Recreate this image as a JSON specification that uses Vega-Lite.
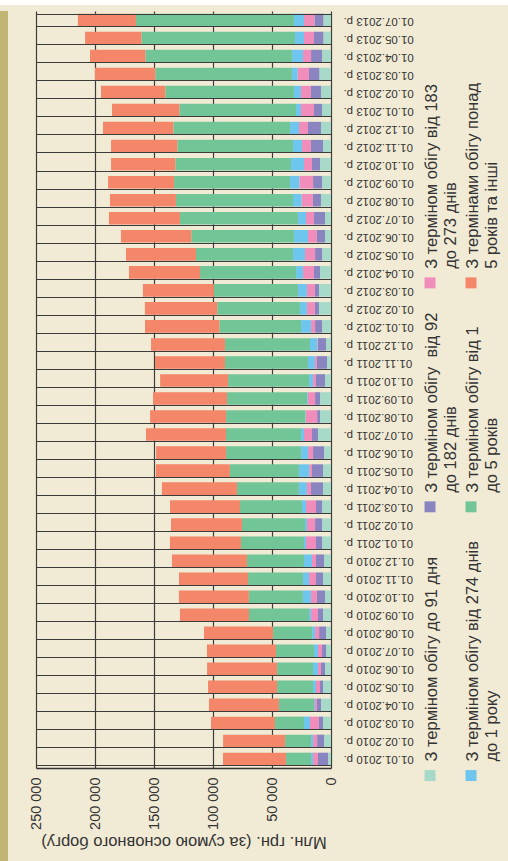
{
  "$schema": "https://vega.github.io/schema/vega-lite/v6.json",
  "background": "#F1EAD5",
  "padding": 0,
  "spacing": 0,
  "config": {
    "view": {"stroke": null},
    "font": "Liberation Sans",
    "axis": {"gridColor": "#3c3c3c", "gridOpacity": 1, "gridWidth": 1.2, "domainColor": "#333333"}
  },
  "datasets": {
    "bars": [
      {"d": "01.07.2013 р.", "s1": 6500, "s2": 7600, "s3": 8800, "s4": 8500, "s5": 133900, "s6": 49200},
      {"d": "01.05.2013 р.", "s1": 6500, "s2": 7900, "s3": 8500, "s4": 7600, "s5": 130200, "s6": 47700},
      {"d": "01.04.2013 р.", "s1": 7600, "s2": 9300, "s3": 6800, "s4": 9300, "s5": 124300, "s6": 46900},
      {"d": "01.03.2013 р.", "s1": 9900, "s2": 8800, "s3": 9600, "s4": 4800, "s5": 115800, "s6": 51100},
      {"d": "01.02.2013 р.", "s1": 8500, "s2": 8500, "s3": 8500, "s4": 5900, "s5": 109000, "s6": 54500},
      {"d": "01.01.2013 р.", "s1": 7600, "s2": 6800, "s3": 11000, "s4": 4200, "s5": 98900, "s6": 57100},
      {"d": "01.12.2012 р.", "s1": 8500, "s2": 11000, "s3": 7600, "s4": 7600, "s5": 98900, "s6": 59600},
      {"d": "01.11.2012 р.", "s1": 6800, "s2": 10200, "s3": 7600, "s4": 7600, "s5": 98000, "s6": 56200},
      {"d": "01.10.2012 р.", "s1": 9300, "s2": 6800, "s3": 6800, "s4": 11000, "s5": 98000, "s6": 54500},
      {"d": "01.09.2012 р.", "s1": 7600, "s2": 7600, "s3": 11600, "s4": 7900, "s5": 98300, "s6": 55900},
      {"d": "01.08.2012 р.", "s1": 8500, "s2": 6800, "s3": 9600, "s4": 7300, "s5": 99200, "s6": 55900},
      {"d": "01.07.2012 р.", "s1": 5100, "s2": 9300, "s3": 6800, "s4": 6800, "s5": 100000, "s6": 60200},
      {"d": "01.06.2012 р.", "s1": 5100, "s2": 6800, "s3": 7600, "s4": 11900, "s5": 87000, "s6": 59600},
      {"d": "01.05.2012 р.", "s1": 7600, "s2": 5900, "s3": 8500, "s4": 10200, "s5": 82200, "s6": 59300},
      {"d": "01.04.2012 р.", "s1": 9300, "s2": 5100, "s3": 9300, "s4": 5900, "s5": 81400, "s6": 60200},
      {"d": "01.03.2012 р.", "s1": 10200, "s2": 3400, "s3": 6800, "s4": 7600, "s5": 71200, "s6": 60200},
      {"d": "01.02.2012 р.", "s1": 10200, "s2": 3400, "s3": 6800, "s4": 5900, "s5": 70100, "s6": 61300},
      {"d": "01.01.2012 р.", "s1": 7600, "s2": 5900, "s3": 3400, "s4": 8500, "s5": 69200, "s6": 63000},
      {"d": "01.12.2011 р.", "s1": 4200, "s2": 6800, "s3": 600, "s4": 6200, "s5": 72000, "s6": 62700},
      {"d": "01.11.2011 р.", "s1": 3400, "s2": 8500, "s3": 1700, "s4": 5900, "s5": 70300, "s6": 59300},
      {"d": "01.10.2011 р.", "s1": 5100, "s2": 7600, "s3": 2500, "s4": 3400, "s5": 68600, "s6": 57600},
      {"d": "01.09.2011 р.", "s1": 9300, "s2": 4200, "s3": 6200, "s4": 600, "s5": 67800, "s6": 62700},
      {"d": "01.08.2011 р.", "s1": 9300, "s2": 2500, "s3": 9600, "s4": 300, "s5": 67200, "s6": 64400},
      {"d": "01.07.2011 р.", "s1": 11000, "s2": 5100, "s3": 6800, "s4": 2500, "s5": 63600, "s6": 67800},
      {"d": "01.06.2011 р.", "s1": 5900, "s2": 9300, "s3": 4200, "s4": 5900, "s5": 63600, "s6": 59300},
      {"d": "01.05.2011 р.", "s1": 6800, "s2": 9300, "s3": 2300, "s4": 8800, "s5": 58500, "s6": 62700},
      {"d": "01.04.2011 р.", "s1": 6800, "s2": 10200, "s3": 3400, "s4": 6800, "s5": 52500, "s6": 63600},
      {"d": "01.03.2011 р.", "s1": 7600, "s2": 5100, "s3": 8500, "s4": 3400, "s5": 52500, "s6": 59300},
      {"d": "01.02.2011 р.", "s1": 7600, "s2": 5900, "s3": 6800, "s4": 1700, "s5": 53400, "s6": 60200},
      {"d": "01.01.2011 р.", "s1": 7600, "s2": 5100, "s3": 8500, "s4": 1700, "s5": 53400, "s6": 60200},
      {"d": "01.12.2010 р.", "s1": 5900, "s2": 6800, "s3": 3400, "s4": 6800, "s5": 48300, "s6": 63600},
      {"d": "01.11.2010 р.", "s1": 6800, "s2": 5900, "s3": 5900, "s4": 5100, "s5": 46600, "s6": 58500},
      {"d": "01.10.2010 р.", "s1": 5100, "s2": 6800, "s3": 5100, "s4": 6800, "s5": 45800, "s6": 59300},
      {"d": "01.09.2010 р.", "s1": 6800, "s2": 4200, "s3": 5900, "s4": 1700, "s5": 50900, "s6": 58500},
      {"d": "01.08.2010 р.", "s1": 4200, "s2": 5900, "s3": 3400, "s4": 2500, "s5": 33100, "s6": 58500},
      {"d": "01.07.2010 р.", "s1": 4200, "s2": 3400, "s3": 3400, "s4": 3400, "s5": 32200, "s6": 58500},
      {"d": "01.06.2010 р.", "s1": 5100, "s2": 3400, "s3": 2500, "s4": 4200, "s5": 30500, "s6": 59300},
      {"d": "01.05.2010 р.", "s1": 6800, "s2": 2500, "s3": 3400, "s4": 2500, "s5": 30500, "s6": 58500},
      {"d": "01.04.2010 р.", "s1": 8500, "s2": 3400, "s3": 1700, "s4": 800, "s5": 29700, "s6": 59300},
      {"d": "01.03.2010 р.", "s1": 6800, "s2": 3400, "s3": 7600, "s4": 5100, "s5": 24600, "s6": 54200},
      {"d": "01.02.2010 р.", "s1": 5900, "s2": 5900, "s3": 3400, "s4": 1700, "s5": 22000, "s6": 52500},
      {"d": "01.01.2010 р.", "s1": 2500, "s2": 8500, "s3": 4200, "s4": 1700, "s5": 21200, "s6": 53400}
    ],
    "legend": [
      {"key": "s1", "col": 1, "row": "bottom", "label": "З терміном обігу до 91 дня"},
      {"key": "s4", "col": 2, "row": "bottom", "label": "З терміном обігу від 274 днів\n\u00a0\u00a0\u00a0\u00a0до 1 року"},
      {"key": "s2", "col": 1, "row": "middle", "label": "З терміном обігу \u00a0від 92\n\u00a0\u00a0до 182 днів"},
      {"key": "s5", "col": 2, "row": "middle", "label": "З терміном обігу від 1\n\u00a0\u00a0до 5 років"},
      {"key": "s3", "col": 1, "row": "top", "label": "З терміном обігу від 183\n\u00a0\u00a0до 273 днів"},
      {"key": "s6", "col": 2, "row": "top", "label": "З термінами обігу понад\n\u00a0\u00a05 років та інші"}
    ]
  },
  "vconcat": [
    {
      "width": 508,
      "height": 5,
      "view": {"fill": "#FFFFFF", "stroke": null},
      "data": {"values": [{}]},
      "mark": {"type": "point", "opacity": 0, "size": 1},
      "encoding": {}
    },
    {
      "hconcat": [
        {
          "width": 8,
          "height": 856,
          "view": {"fill": "#C2B472", "stroke": null},
          "data": {"values": [{}]},
          "mark": {"type": "point", "opacity": 0, "size": 1},
          "encoding": {}
        },
        {
          "width": 295,
          "height": 757,
          "data": {"name": "bars"},
          "transform": [{"fold": ["s1", "s2", "s3", "s4", "s5", "s6"], "as": ["key", "value"]}],
          "mark": {"type": "bar"},
          "encoding": {
            "y": {
              "field": "d",
              "type": "nominal",
              "sort": null,
              "scale": {"paddingInner": 0.3, "paddingOuter": 0.15},
              "axis": {
                "orient": "right",
                "title": null,
                "labelAngle": 180,
                "labelAlign": "right",
                "labelBaseline": "middle",
                "labelFont": "Liberation Sans",
                "labelFontSize": 11.5,
                "labelColor": "#333333",
                "labelPadding": 12,
                "labelOverlap": false,
                "ticks": false,
                "domain": false,
                "grid": true,
                "gridColor": "#3c3c3c",
                "gridWidth": 1.2,
                "tickBand": "extent",
                "zindex": 1
              }
            },
            "x": {
              "field": "value",
              "type": "quantitative",
              "stack": "zero",
              "scale": {"domain": [0, 250000], "reverse": true, "nice": false},
              "axis": {
                "values": [0, 50000, 100000, 150000, 200000, 250000],
                "labelExpr": "datum.value == 0 ? '0' : (datum.value / 1000) + ' 000'",
                "labelAngle": 270,
                "labelAlign": "right",
                "labelBaseline": "middle",
                "labelFont": "Liberation Sans",
                "labelFontSize": 14.5,
                "labelColor": "#333333",
                "labelPadding": 9,
                "labelFlush": false,
                "labelOverlap": false,
                "ticks": false,
                "domain": true,
                "domainColor": "#333333",
                "domainWidth": 1.5,
                "grid": true,
                "gridColor": "#3c3c3c",
                "gridWidth": 1.2,
                "zindex": 0,
                "title": "Млн. грн. (за сумою основного боргу)",
                "titleAngle": 180,
                "titleAlign": "center",
                "titleBaseline": "bottom",
                "titleFont": "Liberation Sans",
                "titleFontSize": 16.5,
                "titleFontWeight": "normal",
                "titleColor": "#333333",
                "titlePadding": 4
              }
            },
            "color": {
              "field": "key",
              "type": "nominal",
              "scale": {
                "domain": ["s1", "s2", "s3", "s4", "s5", "s6"],
                "range": ["#A6D9C7", "#8A85C0", "#F08DBA", "#6EC6EF", "#72C597", "#F48669"]
              },
              "legend": null
            },
            "order": {"field": "key", "sort": "ascending"}
          }
        },
        {
          "width": 123,
          "height": 851,
          "data": {"name": "legend"},
          "encoding": {
            "x": {"field": "col", "type": "ordinal", "scale": {"type": "point", "padding": 1, "align": 0.866}, "axis": null},
            "y": {
              "field": "row",
              "type": "ordinal",
              "scale": {
                "type": "point",
                "domain": ["t1", "t2", "t3", "t4", "t5", "t6", "top", "m1", "m2", "m3", "m4", "middle", "b1", "b2", "b3", "b4", "b5", "bottom"],
                "padding": 1,
                "align": 0.035
              },
              "axis": null
            },
            "color": {"field": "key", "type": "nominal", "legend": null}
          },
          "layer": [
            {"mark": {"type": "square", "size": 120, "filled": true, "opacity": 1}},
            {
              "mark": {
                "type": "text",
                "angle": 270,
                "align": "left",
                "baseline": "top",
                "dx": 14,
                "dy": -6,
                "font": "Liberation Sans",
                "fontSize": 16.5,
                "lineBreak": "\n",
                "lineHeight": 19,
                "color": "#333333"
              },
              "encoding": {"text": {"field": "label"}, "color": {"value": "#333333"}}
            }
          ]
        }
      ],
      "spacing": 28,
      "bounds": "flush"
    }
  ]
}
